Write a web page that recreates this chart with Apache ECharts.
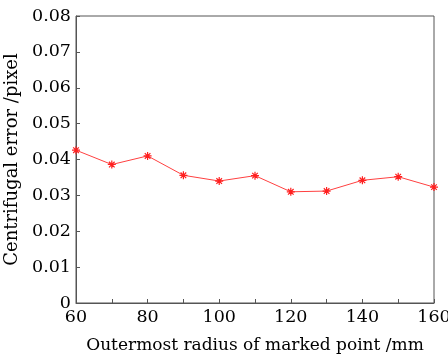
<!DOCTYPE html>
<html><head><meta charset="utf-8">
<script src="https://cdn.jsdelivr.net/npm/echarts@6/dist/echarts.min.js"></script>
<style>html,body{margin:0;padding:0;background:#fff}#c{width:448px;height:356px}</style>
</head><body><div id="c"></div>
<script>
const radius = [60, 70, 80, 90, 100, 110, 120, 130, 140, 150, 160];
const errorVals = [0.0426, 0.0386, 0.0410, 0.0356, 0.0340, 0.0355, 0.0310, 0.0312, 0.0342, 0.0352, 0.0323];
const xTitle = 'Outermost radius of marked point /mm';
const yTitle = 'Centrifugal error /pixel';

const font = 'DejaVu Serif';
const chart = echarts.init(document.getElementById('c'), null, {renderer: 'canvas'});
const asterisk = 'path://M5,0L5,10M0,5L10,5M1.5,1.5L8.5,8.5M8.5,1.5L1.5,8.5';
chart.setOption({
  animation: false,
  grid: {left: 76, right: 14, top: 16, bottom: 53, show: true, borderColor: '#555', borderWidth: 1,
    containLabel: false, outerBoundsMode: 'none'},
  xAxis: {
    type: 'value', min: 60, max: 160, interval: 10,
    name: xTitle, nameLocation: 'middle', nameGap: 34,
    nameTextStyle: {fontFamily: font, fontSize: 17, color: '#000'},
    axisLine: {show: true, lineStyle: {color: '#555'}},
    axisTick: {inside: true, length: 4, lineStyle: {color: '#555'}},
    splitLine: {show: false},
    axisLabel: {fontFamily: font, fontSize: 17.5, color: '#000', margin: 5,
      formatter: v => (v % 20 === 0 ? String(v) : '')}
  },
  yAxis: {
    type: 'value', min: 0, max: 0.08, interval: 0.01,
    name: yTitle, nameLocation: 'middle', nameGap: 50,
    nameTextStyle: {fontFamily: font, fontSize: 18, color: '#000'},
    axisLine: {show: true, lineStyle: {color: '#555'}},
    axisTick: {inside: true, length: 4, lineStyle: {color: '#555'}},
    splitLine: {show: false},
    axisLabel: {fontFamily: font, fontSize: 17.5, color: '#000', margin: 5,
      formatter: v => (v === 0 ? '0' : v.toFixed(2))}
  },
  series: [{
    type: 'line',
    data: radius.map((x, i) => [x, errorVals[i]]),
    symbol: asterisk, symbolSize: 8, showSymbol: true,
    lineStyle: {color: '#ff4040', width: 1},
    itemStyle: {color: '#ff2020', borderColor: '#ff2020', borderWidth: 1.2}
  }]
});
</script></body></html>
